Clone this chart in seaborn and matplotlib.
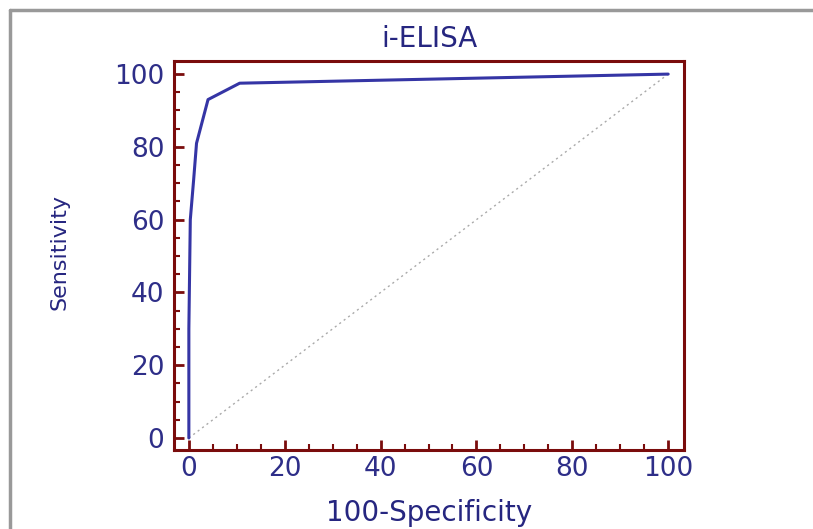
import numpy as np
import pandas as pd
import matplotlib
matplotlib.use('Agg')
import matplotlib.pyplot as plt
from matplotlib.lines import Line2D
from matplotlib.ticker import MultipleLocator
import seaborn as sns

# ROC 곡선 값
fpr = [0, 0, 0.3, 1.0, 1.6, 4.0, 10.6, 100]
tpr = [0, 30, 60, 71, 81, 93, 97.5, 100]
ref_x = [0, 100]
ref_y = [0, 100]
ticks = [0, 20, 40, 60, 80, 100]

df = pd.DataFrame({'fpr': fpr, 'tpr': tpr})
ref = pd.DataFrame({'x': ref_x, 'y': ref_y})

sns.set_style('white')
plt.rcParams['font.family'] = ['DejaVu Sans']

navy = '#262680'
red = '#7a0c0c'

fig = plt.figure(figsize=(8.13, 5.29), dpi=100)
ax = fig.add_axes([174 / 813, 1 - 450 / 529, 510 / 813, 389 / 529])

sns.lineplot(data=ref, x='x', y='y', ax=ax, color='#aaaaaa', lw=1.0,
             linestyle=(0, (1.5, 2.5)), estimator=None)
sns.lineplot(data=df, x='fpr', y='tpr', ax=ax, sort=False, estimator=None,
             color='#3535a5', lw=2.2)

ax.set_xlim(-3.1, 103.3)
ax.set_ylim(-3.3, 103.6)
ax.set_xticks(ticks)
ax.set_yticks(ticks)
ax.xaxis.set_minor_locator(MultipleLocator(5))
ax.yaxis.set_minor_locator(MultipleLocator(5))
ax.tick_params(which='major', direction='in', length=7, width=2, color=red,
               labelsize=19, labelcolor='#2e2e88', pad=7, left=True, bottom=True)
ax.tick_params(axis='x', which='major', pad=4)
ax.tick_params(which='minor', direction='in', length=4, width=1.5, color=red,
               left=True, bottom=True)

for s in ax.spines.values():
    s.set_color(red)
    s.set_linewidth(2.2)

ax.set_title('i-ELISA', fontsize=20, color=navy, pad=10)
ax.set_xlabel('100-Specificity', fontsize=20, color=navy)
ax.set_ylabel('Sensitivity', fontsize=16, color=navy, fontweight='medium')
ax.xaxis.set_label_coords(0.5, -0.125)
ax.yaxis.set_label_coords(-0.204, 0.51)

# 바깥 회색 테두리
fig.add_artist(Line2D([10 / 813, 1], [1 - 10 / 529, 1 - 10 / 529],
                      transform=fig.transFigure, color='#999999', lw=2.5))
fig.add_artist(Line2D([10 / 813, 10 / 813], [0, 1 - 10 / 529],
                      transform=fig.transFigure, color='#999999', lw=2.5))

fig.savefig('out.png', dpi=100)
